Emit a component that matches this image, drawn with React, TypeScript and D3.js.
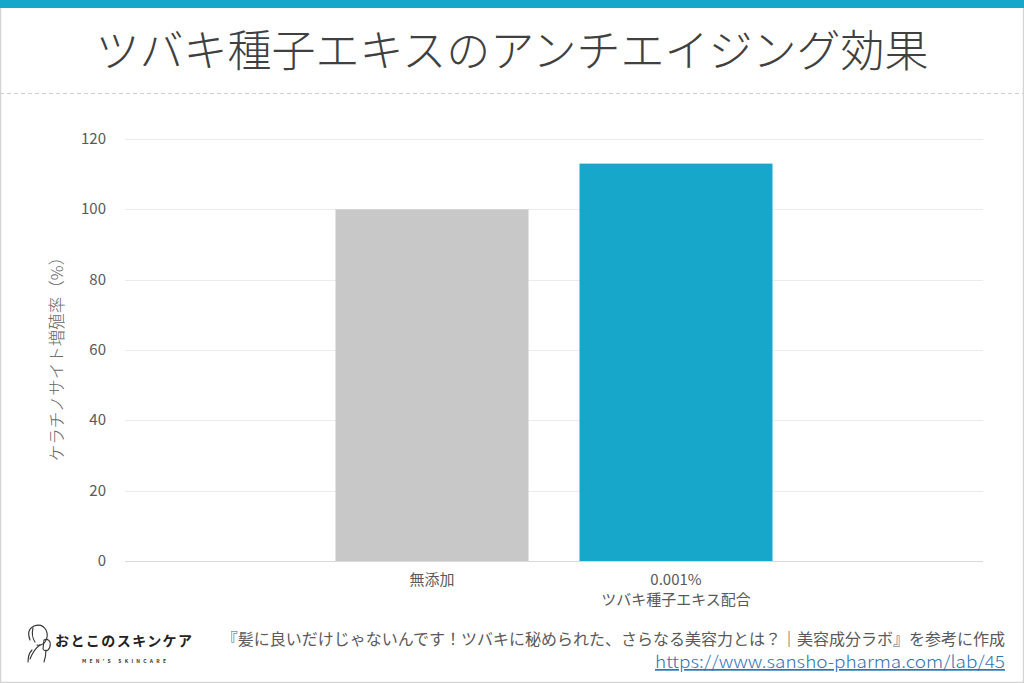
import React from "react";
import * as d3 from "d3";

const categories = ["無添加", "0.001%\nツバキ種子エキス配合"];
const values = [100, 113];
const barColors = ["#c8c8c8", "#17a7cb"];
const yTicks = [0, 20, 40, 60, 80, 100, 120];
const title = "ツバキ種子エキスのアンチエイジング効果";
const yTitle = "ケラチノサイト増殖率（%）";
const sourceText = "『髪に良いだけじゃないんです！ツバキに秘められた、さらなる美容力とは？｜美容成分ラボ』を参考に作成";
const sourceUrl = "https://www.sansho-pharma.com/lab/45";

const W = 1024;
const H = 683;
const gridX0 = 125;
const gridX1 = 983;
const plotTop = 139;
const plotBottom = 561;
const JP = "'Noto Sans CJK JP', 'Noto Sans', sans-serif";

export default function App() {
  const y = d3.scaleLinear().domain([0, 120]).range([plotBottom, plotTop]);
  const x = d3
    .scaleBand<string>()
    .domain(categories)
    .range([gridX0, gridX1])
    .paddingInner(0.209)
    .paddingOuter(0.8627);

  return (
    <svg
      width={W}
      height={H}
      style={{ position: "fixed", left: 0, top: 0, background: "#fff" }}
      fontFamily={JP}
    >
      <rect x={0} y={0} width={W} height={H} fill="#fff" />
      {/* frame */}
      <rect x={0.5} y={0.5} width={W - 1} height={H - 1} fill="none" stroke="#d4d4d4" strokeWidth={1.5} />
      <rect x={0} y={0} width={W} height={8} fill="#17a7cb" />
      {/* title */}
      <text
        x={512}
        y={67}
        textAnchor="middle"
        fontSize={44}
        fontWeight={300}
        fill="#404040"
      >
        {title}
      </text>
      <line x1={0} x2={W} y1={93.5} y2={93.5} stroke="#cfcfcf" strokeDasharray="4 3" />

      {/* gridlines */}
      {yTicks.map((t) => (
        <g key={t}>
          <line
            x1={gridX0}
            x2={gridX1}
            y1={Math.round(y(t)) + 0.5}
            y2={Math.round(y(t)) + 0.5}
            stroke={t === 0 ? "#d9d9d9" : "#ebebeb"}
            strokeWidth={1}
          />
          <text x={106} y={y(t) + 5} textAnchor="end" fontSize={15} fill="#595959">
            {t}
          </text>
        </g>
      ))}

      {/* bars */}
      {categories.map((c, i) => (
        <rect
          key={c}
          x={x(c)}
          y={y(values[i])}
          width={x.bandwidth()}
          height={y(0) - y(values[i])}
          fill={barColors[i]}
        />
      ))}

      {/* category labels */}
      {categories.map((c) => {
        const lines = c.split("\n");
        return (
          <text key={c} x={(x(c) ?? 0) + x.bandwidth() / 2} textAnchor="middle" fontSize={15} fill="#595959">
            {lines.map((l, j) => (
              <tspan key={j} x={(x(c) ?? 0) + x.bandwidth() / 2} y={585 + j * 20}>
                {l}
              </tspan>
            ))}
          </text>
        );
      })}

      {/* y title */}
      <text
        transform={`translate(63, 355) rotate(-90)`}
        textAnchor="middle"
        fontSize={16.5}
        fontWeight={300}
        fill="#666"
      >
        {yTitle}
      </text>

      {/* logo */}
      <g stroke="#333" strokeWidth={1.1} fill="none" strokeLinecap="round">
        <path d="M30 640 q-4 -10 4 -14 q8 -3 12 4 q3 6 -1 12 q-3 4 -8 3" />
        <path d="M33 628 q-2 8 2 14" />
        <path d="M40 645 q-6 4 -10 14 M28 662 q0 -8 4 -12" />
        <path d="M44 640 q4 -2 6 2 q1 5 -2 8 q-3 2 -5 -1 z" />
        <path d="M46 650 q0 6 -2 12" />
      </g>
      <text x={55} y={646} fontSize={14} fontWeight={700} fill="#222" textLength={137} lengthAdjust="spacing">
        おとこのスキンケア
      </text>
      <text x={82} y={663} fontSize={5} fontWeight={700} fill="#333" textLength={84} lengthAdjust="spacing">
        MEN'S SKINCARE
      </text>

      {/* source */}
      <text x={1005} y={645} textAnchor="end" fontSize={16} fill="#595959">
        {sourceText}
      </text>
      <text
        x={1005}
        y={668}
        textAnchor="end"
        fontSize={17}
        fill="#2e75b6"
        textDecoration="underline"
        fontWeight={300}
        textLength={350}
        lengthAdjust="spacingAndGlyphs"
      >
        {sourceUrl}
      </text>
    </svg>
  );
}
